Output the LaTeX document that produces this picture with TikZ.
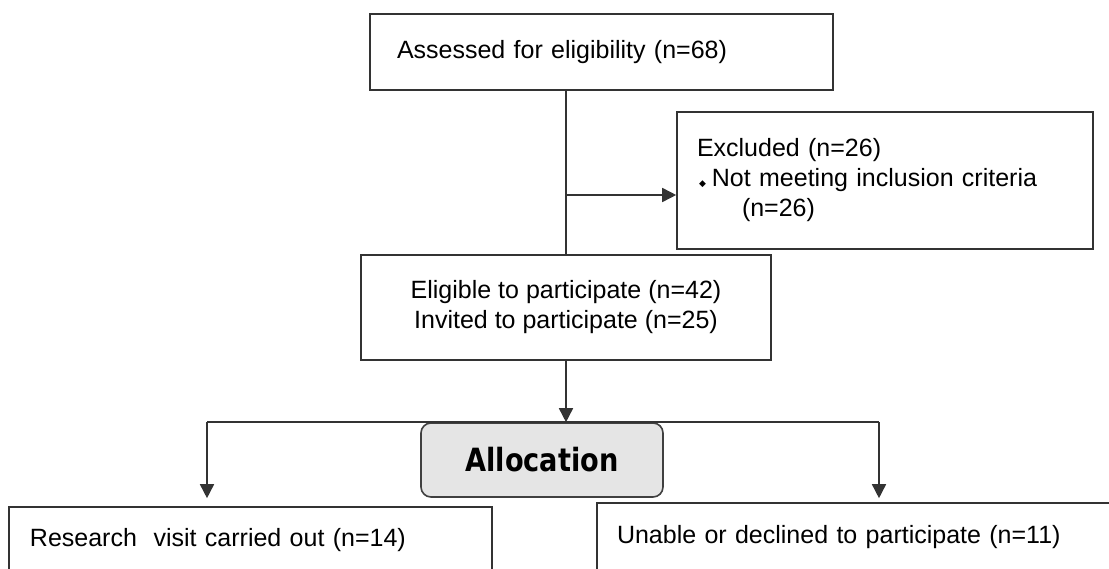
\documentclass[tikz,border=0pt]{standalone}
\usepackage{fontspec}
\setmainfont{Liberation Sans}
\newfontfamily\dejavu{DejaVu Sans}
\newfontfamily\allocfont[FakeStretch=0.85]{DejaVu Sans}
\usepackage{tikz}
\usetikzlibrary{positioning}
\usetikzlibrary{arrows.meta}

\begin{document}
\begin{tikzpicture}[x=1pt,y=-1pt,line width=1.6pt,
    every node/.style={font=\fontsize{25}{30}\selectfont},
    arr/.style={draw=black!80,-{Triangle[length=14pt,width=14pt]}},
    box/.style={draw=black!80,fill=white,inner sep=0pt,align=center},
    leftbox/.style={box,align=left,inner xsep=20pt},
    alloc/.style={draw=black!75,fill=black!10,rounded corners=10pt,
                  font=\allocfont\bfseries\fontsize{32}{34}\selectfont}]
  \clip (0,0) rectangle (1109,569);
  \useasboundingbox (0,0) rectangle (1109,569);

  \node[leftbox,inner xsep=27pt,text width=409pt,minimum height=76pt] (Assessed) at (601.5,52) {Assessed for eligibility (n=68)};
  \node[leftbox,text width=376pt,minimum height=137pt]    (Excluded) at (885,180.5) {Excluded (n=26)\\
        \hspace*{2pt}{\dejavu\fontsize{9}{9}\selectfont ◆}\hspace{6pt}Not meeting inclusion criteria\\
        \hspace*{45pt}(n=26)};
  \node[box,minimum width=410pt,minimum height=105pt]     (Eligible) at (566,307.5) {Eligible to participate (n=42)\\Invited to participate (n=25)};
  \node[alloc,minimum width=242pt,minimum height=74pt]    (Allocation) at (542,460) {Allocation};
  \node[leftbox,inner xsep=21pt,text width=441pt,minimum height=66pt] (Research) at (250.5,540) {Research\ \ visit carried out (n=14)};
  \node[leftbox,text width=488pt,minimum height=68pt]     (Unable)   at (861,537)   {Unable or declined to participate (n=11)};

  \coordinate (split)   at (566,195);
  \coordinate (branchL) at (207,422);
  \coordinate (branchR) at (879,422);

  \draw[black!80] (Assessed.south -| Eligible.north) -- (Eligible.north);
  \draw[arr] (split) -- (split -| Excluded.west);
  \draw[arr] (Eligible.south) -- (Eligible.south |- Allocation.north);
  \draw[black!80] (branchL) -- (branchR);
  \draw[arr,shorten >=8pt] (branchL) -- (branchL |- Research.north);
  \draw[arr,shorten >=4pt] (branchR) -- (branchR |- Unable.north);
\end{tikzpicture}
\end{document}
